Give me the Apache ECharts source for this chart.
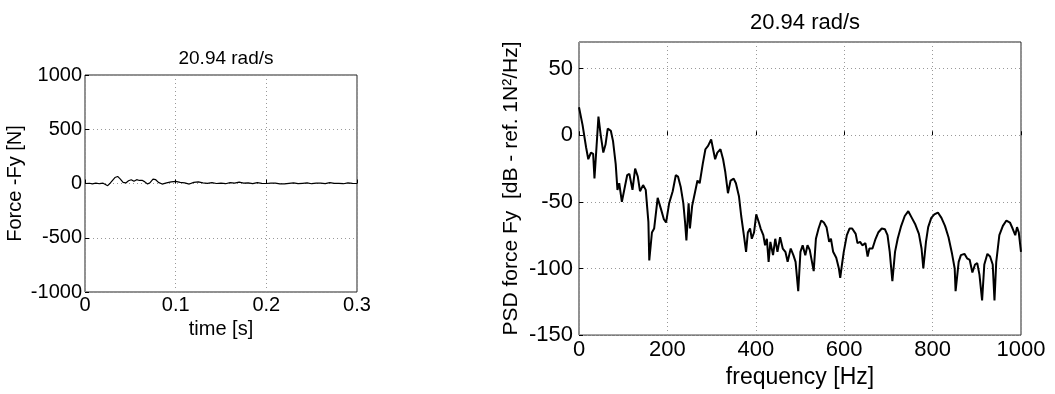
<!DOCTYPE html>
<html lang="en">
<head>
    <meta charset="UTF-8">
    <title>20.94 rad/s</title>
    <script src="https://cdn.jsdelivr.net/npm/echarts@6/dist/echarts.min.js"></script>
</head>
<body style="margin: 0; background: #fff">
<div id="chart" style="width: 1055px; height: 394px"></div>

<script>
    // time signal [s, N]
    let forceFy = [
        [0, 0], [0.005, 2], [0.008, -3], [0.012, 4], [0.016, -2], [0.02, 3], [0.022, 8], [0.025, -20],
        [0.028, 5], [0.03, -5], [0.033, 55], [0.036, 65], [0.039, 40], [0.042, 10], [0.045, 5],
        [0.048, 25], [0.051, 35], [0.054, 20], [0.057, 35], [0.06, 28], [0.063, 30], [0.066, 15],
        [0.069, -5], [0.072, 10], [0.075, 40], [0.078, 35], [0.081, 10], [0.085, -5], [0.09, 5],
        [0.095, 15], [0.1, 20], [0.105, 10], [0.11, 5], [0.115, -5], [0.12, 10], [0.125, 15],
        [0.13, 5], [0.135, 2], [0.14, 8], [0.145, 0], [0.15, 3], [0.155, -2], [0.16, 8], [0.165, 4],
        [0.17, 12], [0.175, 3], [0.18, 5], [0.185, -1], [0.19, 8], [0.195, 2], [0.2, 0], [0.205, 4],
        [0.21, 3], [0.215, -3], [0.22, -3], [0.225, 2], [0.23, 5], [0.235, -1], [0.24, 2], [0.245, 5],
        [0.25, -2], [0.255, 3], [0.26, 4], [0.265, -1], [0.27, 8], [0.275, 1], [0.28, 2], [0.285, -2],
        [0.29, 5], [0.295, 1], [0.3, 0]
    ];

    // PSD [Hz, dB]
    let psdFy = [
        [0, 21], [8, 7.8], [16, -9], [21, -18], [27, -13], [32, -14], [35, -32.5], [39, -12], [44, 14],
        [49, 0.5], [55, -13], [60, -7], [65, 5], [72, 3.4], [77, -4.4], [83, -21.5], [87, -41], [91, -36],
        [97, -50], [103, -40], [109, -30], [114, -29], [121, -41], [127, -25], [133, -31], [138, -42],
        [145, -37.4], [151, -41], [157, -65], [159, -94], [165, -73], [170, -70], [178, -47], [186, -56],
        [192, -63], [197, -65.5], [204, -51], [212, -42], [219, -30], [224, -31], [230, -38.6], [236, -51],
        [240, -65.5], [243, -79], [248, -51], [251, -70], [256, -53], [262, -43.5], [268, -34], [273, -36],
        [280, -21.5], [286, -10.5], [292, -8], [299, -3.2], [302, -2], [308, -18], [313, -13], [320, -10.5],
        [326, -18], [331, -27.6], [337, -43.5], [343, -34], [350, -32.5], [355, -36], [362, -46], [367, -60.6],
        [373, -75], [378, -87.5], [382, -73], [387, -70], [391, -77.7], [396, -73], [401, -59.4], [407, -65.5],
        [411, -70], [417, -75], [421, -82.6], [425, -77.7], [429, -95], [433, -80], [439, -90], [444, -77.7],
        [449, -87.5], [455, -76.5], [461, -85], [467, -87.5], [472, -95], [479, -85], [485, -90], [490, -95],
        [496, -117], [501, -87.5], [506, -82.6], [512, -90], [517, -82.6], [522, -86], [526, -85], [531, -102],
        [536, -77.7], [542, -70], [548, -64], [554, -65.5], [560, -69], [566, -80], [570, -77.7], [575, -87.5],
        [582, -92], [588, -100], [591, -107], [595, -97], [599, -87.5], [606, -75], [612, -70], [618, -70],
        [626, -74], [630, -81], [636, -80], [641, -82.6], [648, -81], [653, -91], [657, -85], [664, -85],
        [671, -77.7], [677, -73], [685, -70], [692, -70.5], [698, -75], [703, -87.5], [709, -109.5], [715, -87.5],
        [721, -77.7], [729, -68], [737, -60.6], [745, -57], [753, -62], [761, -67], [769, -74], [775, -85],
        [779, -100], [785, -80], [790, -69], [797, -62], [804, -59.4], [812, -58], [820, -62], [828, -68],
        [836, -76.5], [844, -89], [850, -100], [852, -117], [859, -95], [864, -90], [872, -89], [878, -92.4],
        [884, -93.6], [890, -103], [896, -97], [901, -96], [906, -104.6], [912, -124], [917, -97], [924, -89],
        [930, -91], [936, -97], [940, -124], [944, -95], [951, -75], [959, -68], [967, -64], [975, -65.5],
        [981, -70], [987, -75], [991, -69], [995, -73], [1000, -87.5]
    ];

    let titleText = '20.94 rad/s';

    let chart = echarts.init(document.getElementById('chart'));
    let font = 'Liberation Sans, Arial, sans-serif';

    let gridLine = {show: true, lineStyle: {color: '#999', type: [1, 3], width: 1}};
    let tick = {show: true, inside: true, length: 4, lineStyle: {color: '#000'}};
    let plain = v => String(v);

    let option = {
        animation: false,
        title: [
            {text: titleText, left: 221, top: 44, textAlign: 'center',
                textStyle: {fontFamily: font, fontSize: 19, fontWeight: 'normal', color: '#000'}},
            {text: titleText, left: 800, top: 7, textAlign: 'center',
                textStyle: {fontFamily: font, fontSize: 22, fontWeight: 'normal', color: '#000'}}
        ],
        grid: [
            {left: 85, top: 75, width: 272, height: 217, show: true, borderColor: '#222', borderWidth: 1},
            {left: 579, top: 42, width: 442, height: 300, show: true, borderColor: '#222', borderWidth: 1}
        ],
        xAxis: [
            {
                gridIndex: 0, type: 'value', min: 0, max: 0.3, interval: 0.1,
                name: 'time [s]', nameLocation: 'middle', nameGap: 23,
                nameTextStyle: {fontFamily: font, fontSize: 20, color: '#000'},
                axisLine: {show: false}, axisTick: tick, splitLine: gridLine,
                axisLabel: {fontFamily: font, fontSize: 20, color: '#000', margin: 3, formatter: plain}
            },
            {
                gridIndex: 1, type: 'value', min: 0, max: 1000, interval: 200,
                name: 'frequency [Hz]', nameLocation: 'middle', nameGap: 25,
                nameTextStyle: {fontFamily: font, fontSize: 23, color: '#000'},
                axisLine: {show: false}, axisTick: tick, splitLine: gridLine,
                axisLabel: {fontFamily: font, fontSize: 22, color: '#000', margin: 4, formatter: plain}
            }
        ],
        yAxis: [
            {
                gridIndex: 0, type: 'value', min: -1000, max: 1000, interval: 500,
                name: 'Force -Fy [N]', nameLocation: 'middle', nameGap: 60,
                nameTextStyle: {fontFamily: font, fontSize: 20, color: '#000'},
                axisLine: {show: false}, axisTick: tick, splitLine: gridLine,
                axisLabel: {fontFamily: font, fontSize: 20, color: '#000', margin: 3, formatter: plain}
            },
            {
                gridIndex: 1, type: 'value', min: -150, max: 70, interval: 50,
                name: 'PSD force Fy  [dB - ref. 1N²/Hz]', nameLocation: 'middle', nameGap: 57,
                nameTextStyle: {fontFamily: font, fontSize: 21, color: '#000'},
                axisLine: {show: false}, axisTick: tick, splitLine: gridLine,
                axisLabel: {fontFamily: font, fontSize: 22, color: '#000', margin: 6, showMaxLabel: false, formatter: plain}
            }
        ],
        series: [
            {
                type: 'line', xAxisIndex: 0, yAxisIndex: 0, data: forceFy,
                showSymbol: false, lineStyle: {color: '#000', width: 1.2}
            },
            {
                type: 'line', xAxisIndex: 1, yAxisIndex: 1, data: psdFy,
                showSymbol: false, lineStyle: {color: '#000', width: 2}
            }
        ]
    };
    chart.setOption(option);
</script>
</body>
</html>
